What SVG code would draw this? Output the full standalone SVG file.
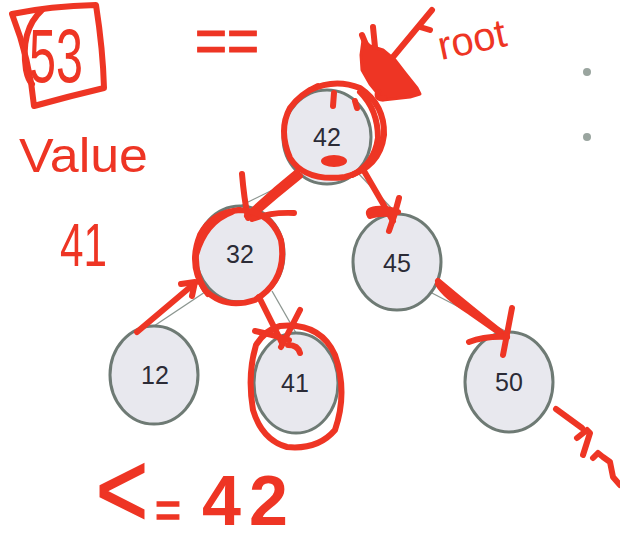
<svg xmlns="http://www.w3.org/2000/svg" width="620" height="548" viewBox="0 0 620 548">
<style>
.node ellipse{fill:#e8e8ee;stroke:#6e7a74;stroke-width:3}
.node text{font-family:"Liberation Sans",Arial,sans-serif;font-size:25px;fill:#2b2b36;text-anchor:middle}
.edge{stroke:#8c9690;stroke-width:1.3;fill:none}
.ink{fill:none;stroke:#ee3524;stroke-linecap:round;stroke-linejoin:round;stroke-width:6}
.inkf{fill:#ee3524;stroke:#ee3524;stroke-linejoin:round;stroke-width:3}
.hand{font-family:"Liberation Sans",Arial,sans-serif;fill:#ee3524}
.dot{fill:#9aa59f}
</style>
<rect width="620" height="548" fill="#ffffff"/>
<g id="connectors">
<line class="edge" x1="303" y1="175" x2="240" y2="206"/>
<line class="edge" x1="357" y1="172" x2="397" y2="214"/>
<line class="edge" x1="208" y1="290" x2="154" y2="326"/>
<line class="edge" x1="272" y1="291" x2="296" y2="333"/>
<line class="edge" x1="430" y1="292" x2="509" y2="333"/>
</g>
<g id="node-42" class="node"><ellipse cx="327" cy="137" rx="44" ry="47"/><text x="327" y="146">42</text></g>
<g id="node-32" class="node"><ellipse cx="240" cy="254" rx="44" ry="48"/><text x="240" y="263">32</text></g>
<g id="node-45" class="node"><ellipse cx="397" cy="262" rx="44" ry="48"/><text x="397" y="272">45</text></g>
<g id="node-12" class="node"><ellipse cx="154" cy="375" rx="44" ry="49"/><text x="155" y="384">12</text></g>
<g id="node-41" class="node"><ellipse cx="296" cy="383" rx="42" ry="50"/><text x="295" y="392">41</text></g>
<g id="node-50" class="node"><ellipse cx="509" cy="382" rx="44" ry="50"/><text x="509" y="391">50</text></g>
<circle class="dot" cx="587" cy="72" r="4"/>
<circle class="dot" cx="587" cy="137" r="4"/>
<g id="annotations">
<path class="ink" d="M12,14 Q50,6 96,5 Q103,50 104,88 Q70,96 34,106 Q30,60 12,14"/>
<path class="ink" stroke-width="3" d="M42,10 Q20,30 26,70 Q28,80 32,84"/>
<text class="hand" x="29" y="82" font-size="76" textLength="54" lengthAdjust="spacingAndGlyphs">53</text>
<text class="hand" x="195" y="63" font-size="64" textLength="64" lengthAdjust="spacingAndGlyphs" stroke="#ee3524" stroke-width="1.2">==</text>
<text class="hand" x="19" y="172" font-size="48" textLength="129" lengthAdjust="spacingAndGlyphs">Value</text>
<text class="hand" x="60" y="266" font-size="62" textLength="47" lengthAdjust="spacingAndGlyphs">41</text>
<text class="hand" x="441" y="60" font-size="40" transform="rotate(-12 441 60)">root</text>
<text class="hand" x="96" y="526" font-size="105" textLength="52" lengthAdjust="spacingAndGlyphs" stroke="#ee3524" stroke-width="2">&lt;</text>
<text class="hand" x="155" y="528" font-size="54" textLength="26" lengthAdjust="spacingAndGlyphs" stroke="#ee3524" stroke-width="1.5">=</text>
<text class="hand" x="202" y="525" font-size="70" font-weight="bold" letter-spacing="8">42</text>
<path class="ink" d="M432,10 L393,57"/>
<path class="ink" stroke-width="4" d="M420,27 L430,30"/>
<polygon class="inkf" points="363,40 370,46 383,50 395,60 405,73 417,88 420,94 410,97 383,100 370,84 362,70 361,55"/>
<path class="ink" stroke-width="5" d="M362,35 L367,47 M373,27 L375,47"/>
<path class="ink" stroke-width="3" d="M378,92 Q376,100 384,98"/>
<path class="ink" d="M310,90 Q335,78 360,88 Q385,105 384,135 Q380,168 345,177 Q305,182 290,158 Q278,130 290,108 Q300,94 318,86"/>
<path class="ink" stroke-width="3" d="M360,92 Q378,110 378,138 Q374,165 352,175"/>
<path class="ink" stroke-width="4" d="M334,93 L333,106 M355,101 L357,108"/>
<ellipse cx="334" cy="161" rx="13" ry="6" fill="#ee3524"/>
<path class="ink" d="M297,172 Q272,192 247,216"/>
<path class="ink" stroke-width="4" d="M300,176 Q275,196 252,216"/>
<path class="ink" d="M242,174 Q244,198 248,218 M294,213 Q270,212 252,219"/>
<path class="ink" d="M238,210 Q270,210 281,240 Q288,280 255,300 Q225,310 205,290 Q188,265 200,235 Q212,212 240,210"/>
<path class="ink" stroke-width="3" d="M232,212 Q205,222 196,255 Q195,278 208,294"/>
<path class="ink" d="M137,332 L195,283"/>
<path class="ink" stroke-width="4" d="M181,284 L195,282 L192,296"/>
<path class="ink" stroke-width="8" d="M259,297 L282,343"/>
<path class="ink" d="M255,331 Q270,334 289,340 M300,310 L281,347"/>
<path class="ink" stroke-width="3" d="M288,345 Q298,345 300,353"/>
<path class="ink" d="M280,326 Q320,322 335,355 Q348,392 335,430 Q318,450 287,447 Q262,440 253,410 Q247,375 256,345 Q265,330 280,326"/>
<path class="ink" d="M364,171 Q378,195 393,221"/>
<path class="ink" d="M399,198 Q395,215 389,231 M392,214 Q378,213 370,216 Q366,210 376,209 Q386,208 398,212"/>
<path class="ink" d="M438,281 Q470,308 507,337"/>
<path class="ink" stroke-width="4" d="M438,284 Q445,296 470,312 Q490,326 500,333"/>
<path class="ink" d="M469,342 Q485,336 507,337"/>
<path class="ink" stroke-width="7" d="M512,308 L503,355"/>
<path class="ink" stroke-width="5" d="M556,409 L582,428"/>
<path class="ink" stroke-width="3.5" d="M577,438 L587,430 L590,433 L583,455 M593,458 L598,453 L603,457 L610,462 L613,477 L620,485"/>
</g>
</svg>
